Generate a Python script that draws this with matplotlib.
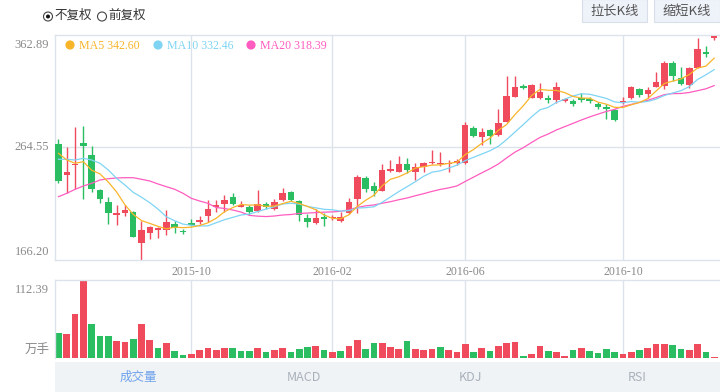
import matplotlib
matplotlib.use("Agg")
import matplotlib.pyplot as plt
from matplotlib.patches import Circle, Rectangle
import numpy as np
import pandas as pd

# ---------------- data ----------------
open_ = [267.35, 240.51, 248.99, 268.22, 258.25, 227.40, 217.17, 205.28, 207.29, 208.16,
         181.33, 189.54, 192.69, 192.43, 197.67, 191.55, 198.29, 199.68, 204.93, 212.27,
         214.90, 221.54, 212.80, 212.80, 208.78, 215.16, 210.52, 218.65, 225.65, 218.04,
         202.66, 198.29, 203.53, 202.66, 200.56, 207.03, 219.53, 238.15, 230.89, 226.78,
         244.27, 243.39, 250.39, 243.13, 247.76, 250.74, 250.12, 250.12, 250.74, 250.74,
         281.86, 273.47, 279.85, 275.21, 287.10, 308.96, 318.31, 308.08, 308.08, 307.56,
         306.07, 305.46, 305.46, 307.56, 306.68, 302.31, 300.22, 297.33, 303.19, 307.56,
         315.43, 311.32, 317.70, 318.31, 338.15, 325.57, 319.18, 334.31, 347.77, 360.27]
close = [235.26, 242.87, 250.39, 266.12, 228.53, 219.53, 207.29, 207.03, 210.17, 186.57,
         192.43, 194.79, 193.92, 199.42, 193.92, 190.42, 196.80, 201.17, 211.05, 214.02,
         218.65, 215.42, 214.55, 208.16, 215.16, 212.27, 216.91, 224.77, 218.65, 205.54,
         199.16, 202.66, 201.78, 204.06, 203.53, 216.91, 239.02, 228.27, 226.26, 244.88,
         245.49, 249.86, 244.88, 247.76, 251.00, 252.14, 251.26, 251.26, 252.75, 283.96,
         274.60, 278.36, 274.60, 286.23, 309.83, 317.70, 316.82, 319.18, 313.07, 306.07,
         317.17, 306.95, 302.58, 306.07, 305.20, 300.22, 298.20, 288.59, 305.20, 317.17,
         310.44, 314.81, 322.07, 338.15, 327.31, 320.06, 334.31, 350.66, 346.02, 362.28]
high = [271.98, 265.25, 282.73, 283.34, 265.86, 228.01, 221.01, 214.28, 214.28, 208.60,
        200.56, 195.93, 194.79, 209.91, 200.56, 193.04, 201.78, 204.67, 218.65, 218.65,
        223.02, 224.51, 217.78, 214.02, 227.40, 216.91, 219.27, 229.14, 226.52, 218.65,
        206.42, 210.52, 207.03, 205.54, 208.43, 220.14, 240.51, 239.90, 234.13, 249.86,
        253.62, 257.38, 255.11, 250.74, 252.14, 262.36, 260.35, 253.62, 254.76, 286.84,
        283.34, 281.86, 280.46, 298.20, 327.31, 327.31, 320.06, 319.80, 321.20, 310.44,
        321.54, 308.08, 306.68, 311.93, 308.96, 304.59, 302.58, 297.94, 308.43, 318.31,
        316.30, 317.70, 330.81, 340.17, 340.17, 334.66, 335.18, 360.01, 353.28, 362.89]
low = [233.78, 225.04, 228.01, 219.53, 225.39, 215.77, 197.67, 196.80, 204.93, 186.05,
       166.20, 184.30, 185.17, 188.06, 189.54, 188.67, 195.93, 197.67, 199.68, 208.43,
       208.43, 214.28, 212.27, 205.54, 208.16, 211.05, 209.65, 218.04, 217.78, 200.56,
       195.31, 197.41, 195.93, 201.17, 199.68, 206.42, 207.03, 225.65, 222.15, 226.26,
       243.39, 242.87, 241.99, 236.14, 243.39, 250.12, 248.38, 243.39, 248.99, 250.12,
       273.47, 266.73, 267.61, 274.60, 286.58, 308.43, 315.95, 307.56, 306.68, 303.19,
       303.71, 304.59, 300.83, 304.59, 303.71, 298.20, 289.20, 287.98, 302.58, 306.95,
       308.96, 308.08, 317.17, 315.69, 322.94, 319.18, 316.30, 333.78, 343.40, 358.52]
volume = [36.8, 34.9, 63.2, 112.39, 48.8, 32.1, 32.1, 24.9, 23.0, 27.8,
          48.8, 26.3, 15.3, 22.5, 10.5, 4.8, 5.7, 12.0, 15.3, 12.0,
          15.3, 14.4, 11.0, 11.0, 15.3, 8.6, 12.0, 14.4, 8.6, 13.4,
          16.7, 17.7, 12.0, 9.6, 10.5, 17.7, 26.3, 12.9, 21.5, 21.5,
          16.7, 12.9, 25.4, 13.4, 12.0, 12.9, 16.7, 12.0, 8.6, 20.6,
          8.6, 14.4, 10.5, 18.2, 22.5, 23.0, 3.3, 6.2, 17.7, 10.5,
          8.6, 3.3, 12.0, 14.4, 11.0, 8.1, 13.4, 8.6, 6.2, 8.6,
          12.0, 14.4, 20.1, 20.1, 19.1, 13.4, 12.0, 20.1, 9.6, 2.4]
vol_up = [0, 1, 1, 1, 0, 0, 0, 1, 1, 0, 1, 1, 0, 1, 0, 0, 1, 1, 1, 1,
          1, 0, 0, 0, 1, 0, 1, 1, 0, 0, 0, 1, 0, 1, 0, 1, 1, 0, 0, 1,
          1, 1, 0, 1, 1, 1, 0, 1, 1, 1, 0, 1, 0, 1, 1, 1, 0, 1, 1, 0,
          1, 1, 0, 1, 0, 0, 0, 0, 1, 1, 0, 1, 1, 1, 0, 0, 1, 1, 0, 1]
# moving-average values before a full window is available
ma5_head = [259.48, 253.62, 250.74, 252.14]
ma10_head = [254.23, 254.23, 253.62, 255.11, 253.62, 250.74, 244.88, 237.62, 231.77]
ma20_head = [221.54, 224.51, 228.01, 230.89, 233.25, 236.14, 237.27, 237.89, 238.15, 238.15,
             236.75, 235.26, 232.64, 230.28, 228.01, 224.51, 220.14, 217.78, 215.77]

date_tick_idx = [16, 33, 49, 68]
date_tick_labels = ["2015-10", "2016-02", "2016-06", "2016-10"]
price_labels = ["362.89", "264.55", "166.20"]
price_max, price_mid, price_min = 362.89, 264.55, 166.20
vol_max_label = "112.39"
vol_unit = "万手"
legend_labels = ["MA5 342.60", "MA10 332.46", "MA20 318.39"]
tab_labels = ["成交量", "MACD", "KDJ", "RSI"]
radio_labels = ["不复权", "前复权"]
button_labels = ["拉长K线", "缩短K线"]

# ---------------- style ----------------
RED = "#ef4b5c"
GREEN = "#2bbd62"
MA_COLORS = ["#f9b52a", "#7fd4f4", "#ff5cc0"]
GRID = "#dde3ea"
LABEL = "#8a8a8a"
SERIF = ["Liberation Serif", "DejaVu Serif"]
CJK = ["Noto Sans CJK SC", "DejaVu Sans"]

W, H = 720, 392
fig = plt.figure(figsize=(7.2, 3.92), dpi=100)
fig.patch.set_facecolor("white")

# background / UI overlay in pixel coordinates
bg = fig.add_axes([0, 0, 1, 1], zorder=0)
bg.set_xlim(0, W)
bg.set_ylim(H, 0)
bg.axis("off")

# tab bar
bg.add_patch(Rectangle((55, 361.7), 665, 31, facecolor="#f0f3f6", edgecolor="none"))
tab_w = 665 / 4
for k, lab in enumerate(tab_labels):
    bg.text(55 + tab_w * (k + 0.5), 377.5, lab, ha="center", va="center",
            fontsize=9, family=CJK, color="#6fa3ea" if k == 0 else "#a9b1bb")

# radio buttons
for k, (cx, lab) in enumerate(zip([48, 102], radio_labels)):
    bg.add_patch(Circle((cx, 16.5), 4.5, facecolor="white", edgecolor="#444", lw=0.8))
    if k == 0:
        bg.add_patch(Circle((cx, 16.5), 2.0, facecolor="#111", edgecolor="none"))
    bg.text(cx + 6, 15, lab, ha="left", va="center", fontsize=9, family=CJK, color="#333")

# buttons
for (x0, w), lab in zip([(582, 65), (654, 66)], button_labels):
    bg.add_patch(Rectangle((x0, -1), w, 22.7, facecolor="#eef2f9", edgecolor="#d9dfe8", lw=0.8))
    bg.text(x0 + w / 2, 11, lab, ha="center", va="center", fontsize=9.5, family=CJK, color="#555")

# legend
for (cx, tx), lab, col in zip([(70, 79), (158, 167), (251, 260)], legend_labels, MA_COLORS):
    bg.add_patch(Circle((cx, 45), 4.6, facecolor=col, edgecolor="none", zorder=5))
    bg.text(tx, 45.5, lab, ha="left", va="center", fontsize=8.6, family=SERIF, color=col, zorder=5)

# ---------------- price axes ----------------
ax = fig.add_axes([55 / W, 1 - 260 / H, 665 / W, 225 / H], zorder=1)
ax.patch.set_alpha(0)
x = np.arange(len(close))
ax.set_xlim(-0.42, 79.7)
ax.set_ylim(price_min, price_max)
ax.set_xticks([])
ax.set_yticks([])
for s in ["top", "left", "bottom"]:
    ax.spines[s].set_color(GRID)
    ax.spines[s].set_linewidth(1)
ax.spines["right"].set_visible(False)
ax.axhline(price_mid, color=GRID, lw=1, zorder=0)
for t in date_tick_idx:
    ax.axvline(t, color=GRID, lw=1, zorder=0)

o = np.array(open_)
c = np.array(close)
up = c >= o
cols = np.where(up, RED, GREEN)
ax.vlines(x, low, high, colors=cols, lw=1.0, zorder=2)
body_h = np.maximum(np.abs(c - o), 0.9)
ax.bar(x, body_h, bottom=np.minimum(o, c), width=0.78, color=cols, zorder=3, linewidth=0)

s = pd.Series(close)
ma5 = s.rolling(5).mean().to_numpy()
ma5[:len(ma5_head)] = ma5_head
ma10 = s.rolling(10).mean().to_numpy()
ma10[:len(ma10_head)] = ma10_head
ma20 = s.rolling(20).mean().to_numpy()
ma20[:len(ma20_head)] = ma20_head
for series, col in zip([ma20, ma10, ma5], MA_COLORS[::-1]):
    ax.plot(x, series, color=col, lw=0.9, zorder=4)

# y labels (drawn inside top/bottom edges as in the original)
for val, lab, off in zip([price_max, price_mid, price_min], price_labels, [-9.5, 0.5, 8]):
    ax.annotate(lab, xy=(0, val), xycoords=("axes fraction", "data"),
                xytext=(-4.2, off * 0.72), textcoords="offset points",
                ha="right", va="center", fontsize=9, family=SERIF, color=LABEL)

# date labels between panels
for t, lab in zip(date_tick_idx, date_tick_labels):
    ax.annotate(lab, xy=(t, 0), xycoords=("data", "axes fraction"),
                xytext=(0, -12 * 0.72), textcoords="offset points",
                ha="center", va="center", fontsize=8.6, family=SERIF, color=LABEL)

# ---------------- volume axes ----------------
vax = fig.add_axes([55 / W, 1 - 358.3 / H, 665 / W, 78.3 / H], zorder=1)
vax.patch.set_alpha(0)
vax.set_xlim(-0.42, 79.7)
vax.set_ylim(0, float(vol_max_label))
vax.set_xticks([])
vax.set_yticks([])
for sname in ["top", "left"]:
    vax.spines[sname].set_color(GRID)
    vax.spines[sname].set_linewidth(1)
vax.spines["right"].set_visible(False)
vax.spines["bottom"].set_visible(False)
for t in date_tick_idx:
    vax.axvline(t, color=GRID, lw=1, zorder=0)
vcols = [RED if u else GREEN for u in vol_up]
vax.bar(x, volume, width=0.8, color=vcols, linewidth=0, zorder=2)
vax.annotate(vol_max_label, xy=(0, 1), xycoords="axes fraction",
             xytext=(-4.2, -10 * 0.72), textcoords="offset points",
             ha="right", va="center", fontsize=9, family=SERIF, color=LABEL)
vax.annotate(vol_unit, xy=(0, 0), xycoords="axes fraction",
             xytext=(-4.2, 8.5 * 0.72), textcoords="offset points",
             ha="right", va="center", fontsize=9, family=CJK, color=LABEL)

fig.savefig("out.png", dpi=100)
